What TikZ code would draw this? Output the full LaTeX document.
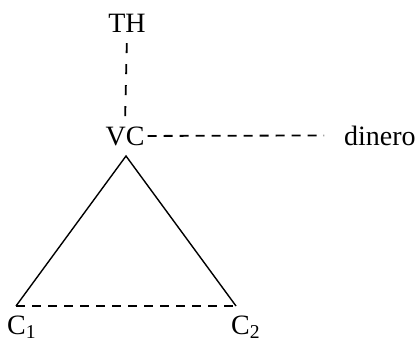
\documentclass[tikz,border=0pt]{standalone}
\usepackage{fontspec}
\setmainfont{Liberation Serif}
\usetikzlibrary{positioning,calc}

\begin{document}
\begin{tikzpicture}[x=1pt, y=-1pt, every node/.style={font=\fontsize{28}{32}\selectfont, inner sep=3pt},
        dashln/.style={line width=1.8pt, dash pattern=on 9pt off 7pt},
        solidln/.style={line width=1.4pt}]
        \useasboundingbox (0,0) rectangle (417,343);
        \node[anchor=base] (th) at (127,32) {TH};
        \node[anchor=base] (vc) at (125,145) {VC};
        \node[anchor=base west] (din) at (341,145) {dinero};
        \node[anchor=base west, inner sep=0pt] (c1) at (7,334) {C\textsubscript{1}};
        \node[anchor=base west, inner sep=0pt] (c2) at (231,334) {C\textsubscript{2}};
        \coordinate (apex) at (126,156);
        \coordinate (left) at (16,306);
        \coordinate (right) at (236,306);
        \draw[dashln, dash pattern=on 10pt off 11pt, shorten <=8pt, shorten >=5pt] (th.south) -- (vc.north);
        \draw[dashln, shorten >=17pt] (vc.east) -- (din.west);
        \draw[solidln] (left) -- (apex) -- (right);
        \draw[dashln] (left) -- (right);
    \end{tikzpicture}
\end{document}
